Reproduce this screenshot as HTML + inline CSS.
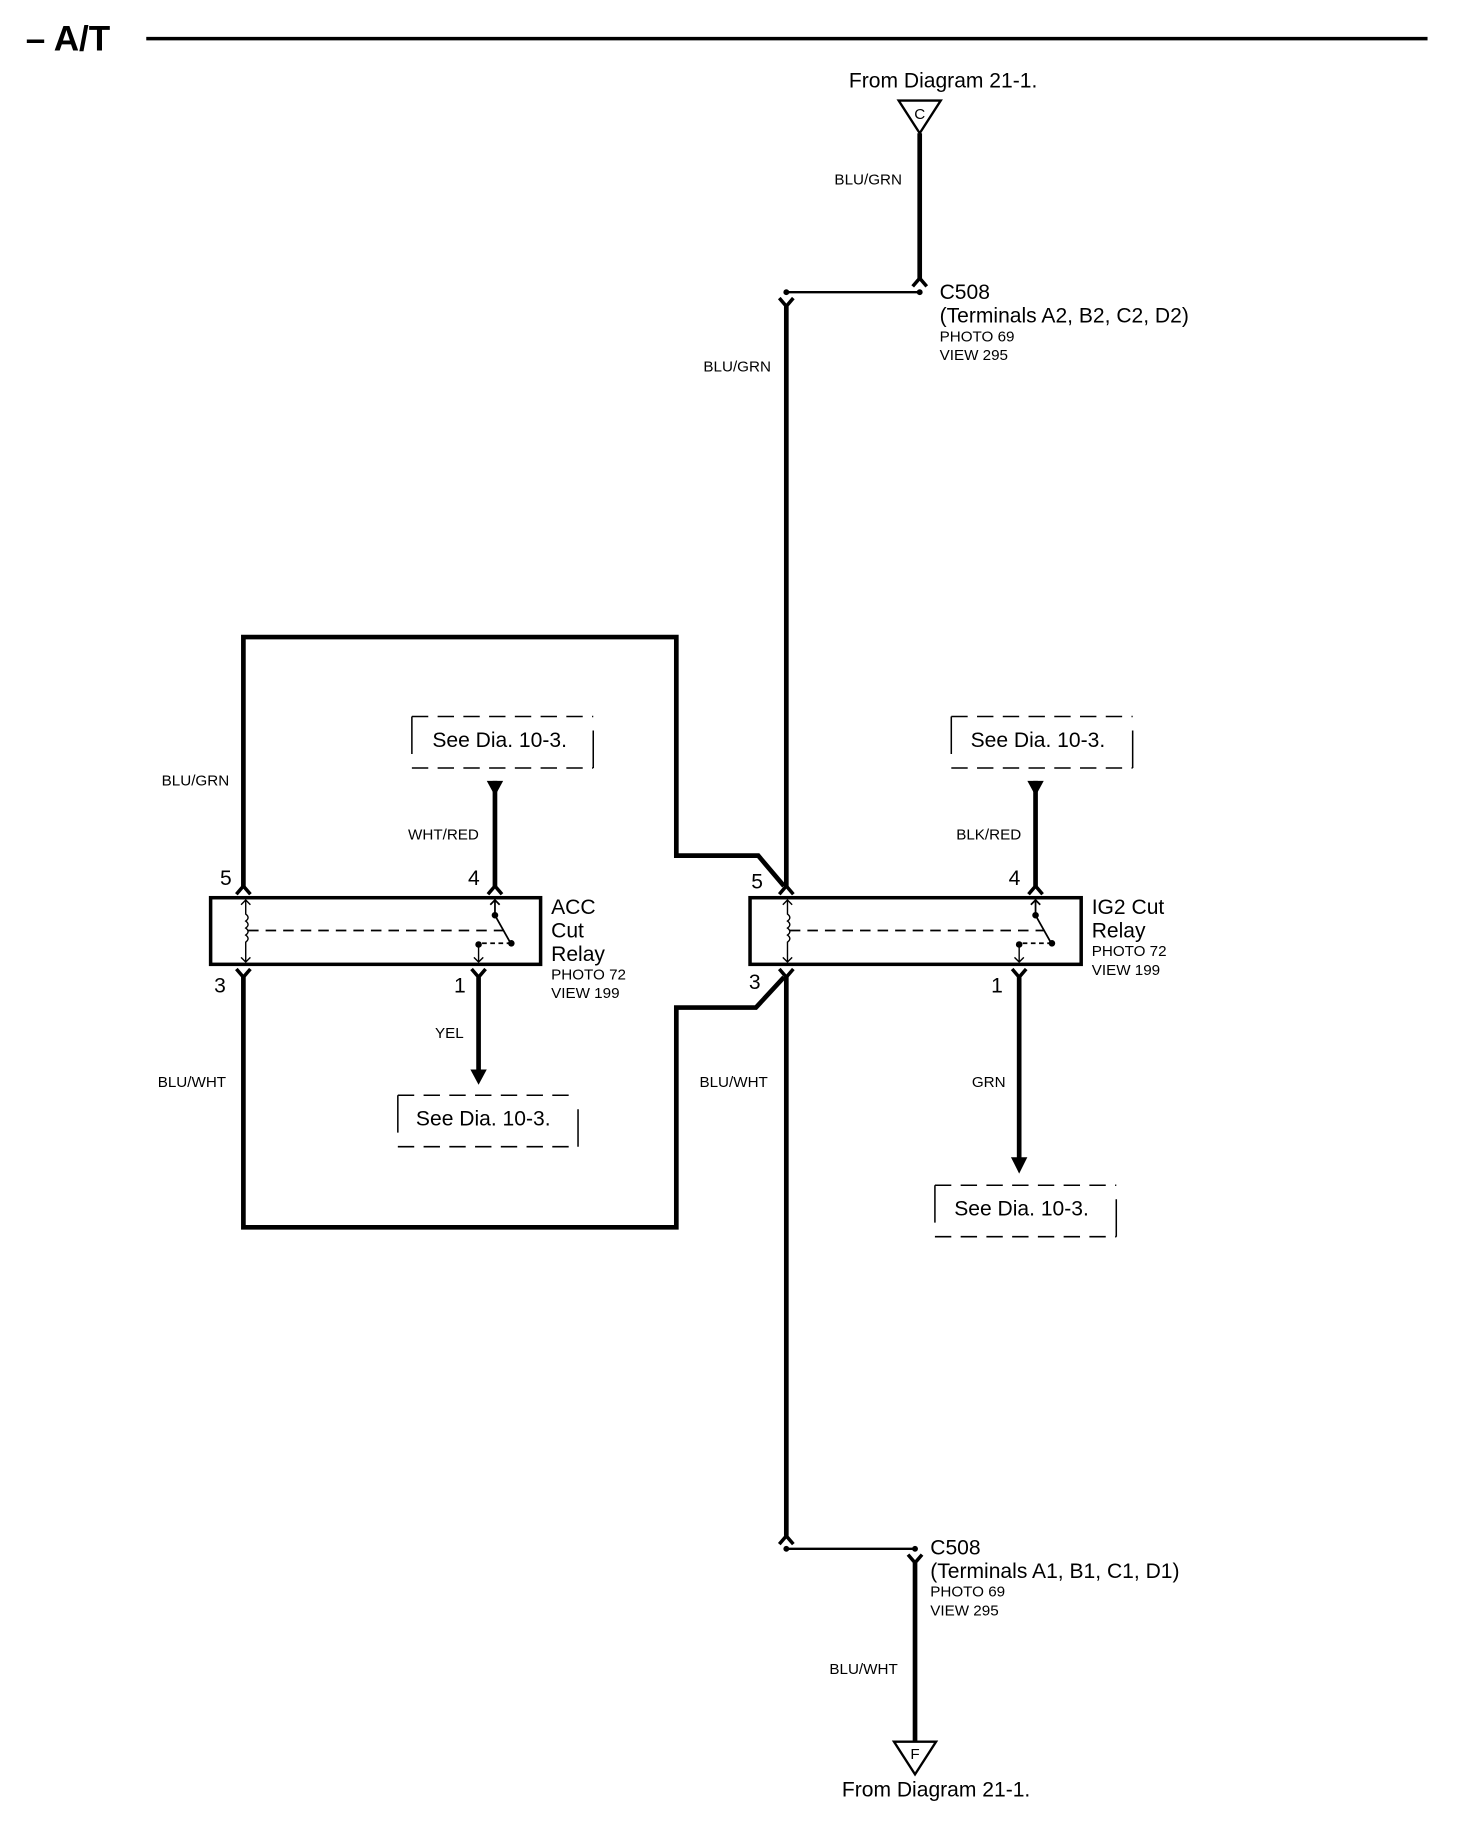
<!DOCTYPE html>
<html><head><meta charset="utf-8"><style>
html,body{margin:0;padding:0;background:#fff;}
svg{display:block;}
text{font-family:"Liberation Sans",sans-serif;fill:#000;}
.b{font-size:18px;}
.s{font-size:13px;}
</style></head><body>
<svg width="1472" height="1834" viewBox="0 0 1258 1569" preserveAspectRatio="none" xmlns="http://www.w3.org/2000/svg">
<defs>
<g id="up"><path d="M-6,7 L0,0 L6,7" fill="none" stroke="#000" stroke-width="3"/></g>
<g id="dn"><path d="M-6,-7 L0,0 L6,-7" fill="none" stroke="#000" stroke-width="3"/></g>
</defs>
<text x="22" y="43" style="font-size:30px;font-weight:bold">– A/T</text>
<line x1="125" y1="33" x2="1220" y2="33" stroke="#000" stroke-width="3"/>

<text x="806" y="75" class="b" text-anchor="middle">From Diagram 21-1.</text>
<polygon points="768,86 804,86 786,114" fill="#fff" stroke="#000" stroke-width="2"/>
<text x="786" y="102" class="s" text-anchor="middle">C</text>
<line x1="786" y1="114" x2="786" y2="238" stroke="#000" stroke-width="4"/>
<text x="742" y="158" class="s" text-anchor="middle">BLU/GRN</text>
<use href="#up" x="786" y="238"/>
<line x1="672" y1="250" x2="786" y2="250" stroke="#000" stroke-width="2"/>
<circle cx="672" cy="250" r="2.5"/><circle cx="786" cy="250" r="2.5"/>
<use href="#dn" x="672" y="262"/>
<text x="803" y="256" class="b">C508</text>
<text x="803" y="276" class="b">(Terminals A2, B2, C2, D2)</text>
<text x="803" y="292" class="s">PHOTO 69</text>
<text x="803" y="308" class="s">VIEW 295</text>
<text x="630" y="318" class="s" text-anchor="middle">BLU/GRN</text>

<line x1="672" y1="262" x2="672" y2="760" stroke="#000" stroke-width="4"/>
<line x1="672" y1="834" x2="672" y2="1314" stroke="#000" stroke-width="4"/>
<polyline points="208,760 208,545 578,545 578,732 648,732 670,758" fill="none" stroke="#000" stroke-width="4"/>
<polyline points="208,834 208,1050 578,1050 578,862 646,862 670,836" fill="none" stroke="#000" stroke-width="4"/>
<text x="167" y="672" class="s" text-anchor="middle">BLU/GRN</text>
<text x="164" y="930" class="s" text-anchor="middle">BLU/WHT</text>
<text x="627" y="930" class="s" text-anchor="middle">BLU/WHT</text>

<!-- ACC relay -->
<rect x="180" y="768" width="282" height="57" fill="#fff" stroke="#000" stroke-width="3"/>
<use href="#up" x="208" y="758"/><use href="#dn" x="208" y="836"/>
<use href="#up" x="423" y="758"/><use href="#dn" x="409" y="836"/>
<text x="188" y="757" class="b">5</text><text x="400" y="757" class="b">4</text>
<text x="183" y="849" class="b">3</text><text x="388" y="849" class="b">1</text>
<path d="M210,770 V782 q4,3 0,6 q4,3 0,6 q4,3 0,6 q4,3 0,6 V823 M206,774 l4,-4 l4,4 M206,819 l4,4 l4,-4" fill="none" stroke="#000" stroke-width="1.2"/>
<line x1="212" y1="796" x2="430" y2="796" stroke="#000" stroke-width="1.5" stroke-dasharray="9,6"/>
<path d="M423,770 V783 L437,808 M419,774 l4,-4 l4,4" fill="none" stroke="#000" stroke-width="1.5"/>
<circle cx="423" cy="783" r="2.8"/><circle cx="437" cy="807" r="2.8"/><circle cx="409" cy="808" r="2.8"/>
<path d="M437,807 H412" stroke="#000" stroke-width="1.5" stroke-dasharray="4,3"/>
<path d="M409,808 V823 M405,819 l4,4 l4,-4" fill="none" stroke="#000" stroke-width="1.2"/>
<text x="471" y="782" class="b">ACC</text><text x="471" y="802" class="b">Cut</text>
<text x="471" y="822" class="b">Relay</text>
<text x="471" y="838" class="s">PHOTO 72</text><text x="471" y="854" class="s">VIEW 199</text>
<polygon points="416,668 430,668 423,681" fill="#000"/>
<line x1="423" y1="668" x2="423" y2="758" stroke="#000" stroke-width="4"/>
<text x="379" y="718" class="s" text-anchor="middle">WHT/RED</text>
<line x1="409" y1="836" x2="409" y2="918" stroke="#000" stroke-width="4"/>
<polygon points="402,915 416,915 409,928" fill="#000"/>
<text x="384" y="888" class="s" text-anchor="middle">YEL</text>

<!-- IG2 relay -->
<rect x="641" y="768" width="283" height="57" fill="#fff" stroke="#000" stroke-width="3"/>
<use href="#up" x="672" y="758"/><use href="#dn" x="672" y="836"/>
<use href="#up" x="885" y="758"/><use href="#dn" x="871" y="836"/>
<text x="642" y="760" class="b">5</text><text x="862" y="757" class="b">4</text>
<text x="640" y="846" class="b">3</text><text x="847" y="849" class="b">1</text>
<path d="M673,770 V782 q4,3 0,6 q4,3 0,6 q4,3 0,6 q4,3 0,6 V823 M669,774 l4,-4 l4,4 M669,819 l4,4 l4,-4" fill="none" stroke="#000" stroke-width="1.2"/>
<line x1="675" y1="796" x2="892" y2="796" stroke="#000" stroke-width="1.5" stroke-dasharray="9,6"/>
<path d="M885,770 V783 L899,808 M881,774 l4,-4 l4,4" fill="none" stroke="#000" stroke-width="1.5"/>
<circle cx="885" cy="783" r="2.8"/><circle cx="899" cy="807" r="2.8"/><circle cx="871" cy="808" r="2.8"/>
<path d="M899,807 H874" stroke="#000" stroke-width="1.5" stroke-dasharray="4,3"/>
<path d="M871,808 V823 M867,819 l4,4 l4,-4" fill="none" stroke="#000" stroke-width="1.2"/>
<text x="933" y="782" class="b">IG2 Cut</text>
<text x="933" y="802" class="b">Relay</text>
<text x="933" y="818" class="s">PHOTO 72</text><text x="933" y="834" class="s">VIEW 199</text>
<polygon points="878,668 892,668 885,681" fill="#000"/>
<line x1="885" y1="668" x2="885" y2="758" stroke="#000" stroke-width="4"/>
<text x="845" y="718" class="s" text-anchor="middle">BLK/RED</text>
<line x1="871" y1="836" x2="871" y2="993" stroke="#000" stroke-width="4"/>
<polygon points="864,990 878,990 871,1004" fill="#000"/>
<text x="845" y="930" class="s" text-anchor="middle">GRN</text>

<!-- See Dia boxes -->
<g fill="none" stroke="#000" stroke-width="1.3">
<path d="M352,613 H507 M352,657 H507" stroke-dasharray="14,8"/>
<path d="M352,613 V645 M507,625 V657"/>
<path d="M813,613 H968 M813,657 H968" stroke-dasharray="14,8"/>
<path d="M813,613 V645 M968,625 V657"/>
<path d="M340,937 H494 M340,981 H494" stroke-dasharray="14,8"/>
<path d="M340,937 V969 M494,949 V981"/>
<path d="M799,1014 H954 M799,1058 H954" stroke-dasharray="14,8"/>
<path d="M799,1014 V1046 M954,1026 V1058"/>
</g>
<text x="427" y="639" class="b" text-anchor="middle">See Dia. 10-3.</text>
<text x="887" y="639" class="b" text-anchor="middle">See Dia. 10-3.</text>
<text x="413" y="963" class="b" text-anchor="middle">See Dia. 10-3.</text>
<text x="873" y="1040" class="b" text-anchor="middle">See Dia. 10-3.</text>

<!-- bottom C508 -->
<use href="#up" x="672" y="1314"/>
<line x1="672" y1="1325" x2="782" y2="1325" stroke="#000" stroke-width="2"/>
<circle cx="672" cy="1325" r="2.5"/><circle cx="782" cy="1325" r="2.5"/>
<use href="#dn" x="782" y="1337"/>
<line x1="782" y1="1337" x2="782" y2="1490" stroke="#000" stroke-width="4"/>
<text x="795" y="1330" class="b">C508</text>
<text x="795" y="1350" class="b">(Terminals A1, B1, C1, D1)</text>
<text x="795" y="1366" class="s">PHOTO 69</text>
<text x="795" y="1382" class="s">VIEW 295</text>
<text x="738" y="1432" class="s" text-anchor="middle">BLU/WHT</text>
<polygon points="764,1490 800,1490 782,1518" fill="#fff" stroke="#000" stroke-width="2"/>
<text x="782" y="1505" class="s" text-anchor="middle">F</text>
<text x="800" y="1537" class="b" text-anchor="middle">From Diagram 21-1.</text>
</svg>
</body></html>
